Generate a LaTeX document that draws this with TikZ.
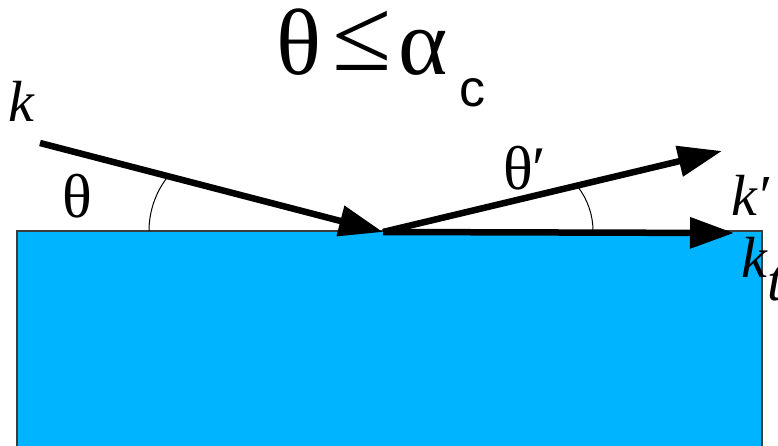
\documentclass[tikz,border=0pt]{standalone}
\usepackage{fontspec}
\setmainfont{Liberation Serif}
\newfontfamily\sansf{Liberation Sans}
\usetikzlibrary{arrows.meta}
\definecolor{water}{RGB}{0,180,255}
\definecolor{edge}{RGB}{60,60,60}
\begin{document}
\begin{tikzpicture}[x=1pt,y=-1pt,
  ray/.style={line width=6.5pt, -{Triangle[length=44pt,width=30pt]}},
  anglearc/.style={line width=1pt},
  lbl/.style={inner sep=0pt, anchor=base west, font=\fontsize{58}{58}\selectfont},
  glbl/.style={inner sep=0pt, anchor=base west, font=\fontsize{62}{62}\selectfont},
  big/.style={inner sep=0pt, anchor=base west, font=\fontsize{94}{94}\selectfont},
  sub/.style={inner sep=0pt, anchor=base west, font=\sansf\fontsize{52}{52}\selectfont}]
\useasboundingbox (0,0) rectangle (778,446);
\filldraw[fill=water, draw=edge, line width=1.2pt] (17,231) rectangle (762,470);
\coordinate (A) at (40,143);
\coordinate (O) at (383,232);
\coordinate (R) at (722,151);
\coordinate (T) at (734,233);
\draw[ray] (A) -- (O);
\draw[ray] (O) -- (R);
\draw[ray] (O) -- (T);
\draw[anglearc] (149,231) arc[start angle=180, end angle=218, radius=88];
\draw[anglearc] (593,231) arc[start angle=360, end angle=322.3, radius=72];
% title
\node[big] (t1) at (276,75) {θ};
\node[big] (t2) at (332,71) {\scalebox{1.15}[1.1]{≤}};
\node[big] (t3) at (398,75) {α};
\node[sub] (t4) at (459,107) {c};
% labels
\node[lbl] (kin) at (8,122) {\itshape k};
\node[glbl] (th) at (62,218) {θ};
\node[glbl] (thp) at (503,190) {θ′};
\node[lbl] (kp) at (731,216) {\itshape k′};
\node[lbl] (kt) at (741,277) {\itshape k};
\node[lbl] (ktt) at (767,300) {\itshape t};
\end{tikzpicture}
\end{document}
